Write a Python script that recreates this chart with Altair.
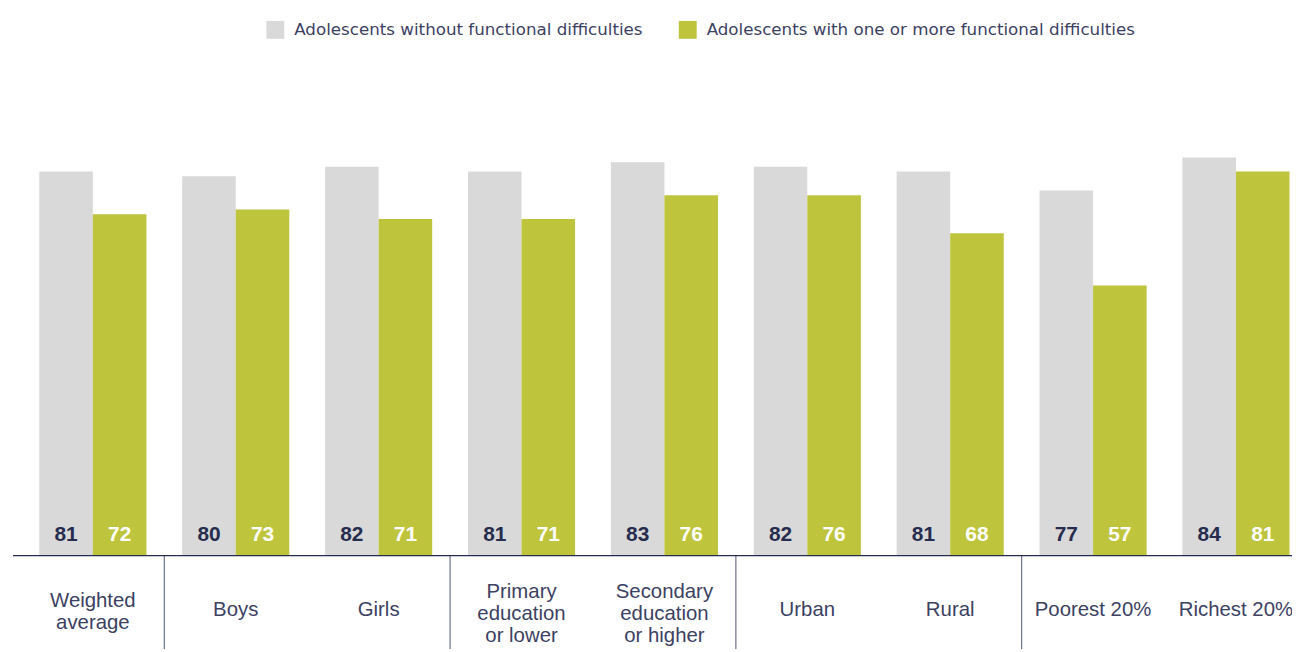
import altair as alt
import pandas as pd

categories = ["Weighted average", "Boys", "Girls", "Primary education or lower",
              "Secondary education or higher", "Urban", "Rural", "Poorest 20%", "Richest 20%"]
label_lines = [["Weighted", "average"], ["Boys"], ["Girls"], ["Primary", "education", "or lower"],
               ["Secondary", "education", "or higher"], ["Urban"], ["Rural"], ["Poorest 20%"], ["Richest 20%"]]
groups = ["Adolescents without functional difficulties",
          "Adolescents with one or more functional difficulties"]
without_vals = [81, 80, 82, 81, 83, 82, 81, 77, 84]
with_vals = [72, 73, 71, 71, 76, 76, 68, 57, 81]
separator_before = ["Boys", "Primary education or lower", "Urban", "Poorest 20%"]

GREY = "#d9d9d9"
GREEN = "#bec43c"
NAVY = "#262c4e"
TEXT = "#3c4162"
FONT = "Liberation Sans"

W, H = 1285, 477

rows = []
for c, a, b in zip(categories, without_vals, with_vals):
    rows.append({"category": c, "group": groups[0], "value": a})
    rows.append({"category": c, "group": groups[1], "value": b})
long = pd.DataFrame(rows)
cat_df = pd.DataFrame({"category": categories, "lines": label_lines})
sep_df = pd.DataFrame({"category": separator_before})
base_df = pd.DataFrame({"k": [0]})

xscale = alt.Scale(domain=categories, range=[8.5, 1302.5], paddingInner=0, paddingOuter=0)
xenc = alt.X("category:N", sort=categories, scale=xscale, axis=None)
xoff = alt.XOffset("group:N", sort=groups,
                   scale=alt.Scale(domain=groups, paddingInner=0, paddingOuter=0.334))
yenc = alt.Y("value:Q", scale=alt.Scale(domain=[0, 100]), axis=None)

bars = alt.Chart(long).mark_bar().encode(
    x=xenc, xOffset=xoff, y=yenc,
    color=alt.Color("group:N", sort=groups,
                    scale=alt.Scale(domain=groups, range=[GREY, GREEN]),
                    legend=alt.Legend(title=None, orient="none", direction="horizontal",
                                      legendX=255, legendY=-61, symbolType="square",
                                      symbolSize=324, symbolStrokeWidth=0, labelFontSize=16.8,
                                      labelFont="DejaVu Sans", labelColor=TEXT, labelOffset=10,
                                      columnPadding=36, labelLimit=600)),
)

val_grey = alt.Chart(long).transform_filter(alt.datum.group == groups[0]).mark_text(
    fontSize=21, fontWeight="bold", font=FONT, color=NAVY, baseline="middle"
).encode(x=xenc, xOffset=xoff, y=alt.value(H - 21), text="value:Q")

val_green = alt.Chart(long).transform_filter(alt.datum.group == groups[1]).mark_text(
    fontSize=21, fontWeight="bold", font=FONT, color="white", baseline="middle"
).encode(x=xenc, xOffset=xoff, y=alt.value(H - 21), text="value:Q")

cat_labels = alt.Chart(cat_df).transform_calculate(
    ylab=f"{H + 55} - (length(datum.lines) - 1) * 9"
).mark_text(
    fontSize=20.5, font=FONT, color=TEXT, baseline="middle", lineHeight=22
).encode(x=xenc, y=alt.Y("ylab:Q", scale=None, axis=None), text="lines")

seps = alt.Chart(sep_df).mark_rule(color="#6d7190", strokeWidth=1.2).encode(
    x=alt.X("category:N", sort=categories, scale=xscale, axis=None, bandPosition=0),
    y=alt.value(H), y2=alt.value(H + 95),
)

baseline = alt.Chart(base_df).mark_rule(color=NAVY, strokeWidth=1.3).encode(
    x=alt.value(0), x2=alt.value(1292), y=alt.value(H)
)

chart = alt.layer(bars, val_grey, val_green, seps, baseline, cat_labels).properties(
    width=W, height=H,
    autosize=alt.AutoSizeParams(type="none"),
    padding={"left": 5, "top": 72, "right": 2, "bottom": 92},
).configure_view(stroke=None)

chart.save("out.html", embed_options={"renderer": "svg", "actions": False})
